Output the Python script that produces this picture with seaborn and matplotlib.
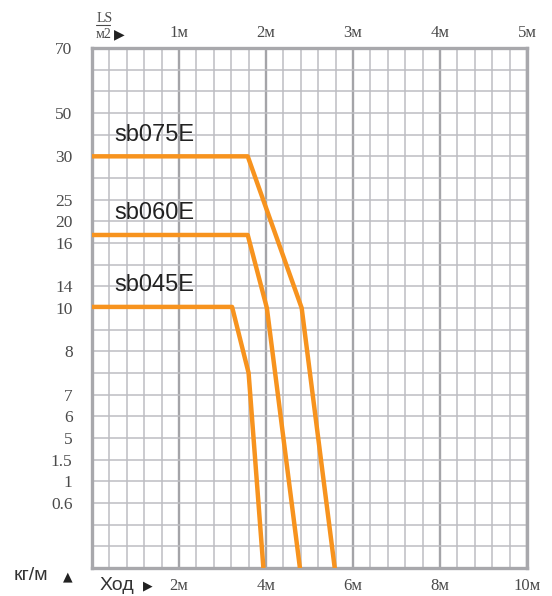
import pandas as pd
import seaborn as sns
import matplotlib.pyplot as plt
from matplotlib.ticker import MultipleLocator

##################################### Data #####################################
# x = LS/2 in metres, y = position on the grid (row counted from the bottom)
sb075E_x = [0, 1.79, 2.41, 2.79]
sb075E_y = [19, 19, 12, 0]
sb060E_x = [0, 1.79, 2.01, 2.39]
sb060E_y = [15.37, 15.37, 12, 0]
sb045E_x = [0, 1.61, 1.80, 1.97]
sb045E_y = [12.05, 12.05, 9, 0]

series_names = ["sb075E", "sb060E", "sb045E"]

# y tick labels (kg/m) and the grid row they sit on
y_tick_rows = [24, 21, 19, 17, 16, 15, 13, 12, 10, 8, 7, 6, 5, 4, 3]
y_tick_labels = ["70", "50", "30", "25", "20", "16", "14", "10", "8", "7", "6", "5", "1.5", "1", "0.6"]

top_ticks = [1, 2, 3, 4, 5]
top_labels = ["1м", "2м", "3м", "4м", "5м"]
bottom_ticks = [2, 4, 6, 8, 10]
bottom_labels = ["2м", "4м", "6м", "8м", "10м"]

##################################### Settings #####################################
orange = "#F7931E"
grid_color = "#bdbdc2"
label_color = "#4a4a4a"
serif = ["Liberation Serif", "DejaVu Serif"]
sans = ["Liberation Sans", "DejaVu Sans"]

sns.set_style("white")
plt.rcParams['font.family'] = sans

df = pd.concat([
    pd.DataFrame({"x": sb075E_x, "y": sb075E_y, "model": "sb075E"}),
    pd.DataFrame({"x": sb060E_x, "y": sb060E_y, "model": "sb060E"}),
    pd.DataFrame({"x": sb045E_x, "y": sb045E_y, "model": "sb045E"}),
])

##################################### Plot #####################################
fig = plt.figure(figsize=(5.52, 5.96), dpi=100)
ax = fig.add_axes([92 / 552, 1 - 568 / 596, 435 / 552, 520 / 596])

sns.lineplot(data=df, x="x", y="y", hue="model", sort=False, estimator=None,
             palette=[orange] * 3, linewidth=3.2, legend=False, ax=ax, zorder=3)

ax.set_xlim(0, 5)
ax.set_ylim(0, 24)

# grid: fine cells, darker line at every metre
ax.xaxis.set_minor_locator(MultipleLocator(0.2))
ax.yaxis.set_minor_locator(MultipleLocator(1))
ax.grid(which="minor", color=grid_color, linewidth=1.1)
ax.grid(which="major", axis="x", color="#a4a4a8", linewidth=1.7)
ax.grid(which="major", axis="y", color=grid_color, linewidth=1.1)

# top axis ticks (LS/2)
ax.set_xticks(top_ticks)
ax.xaxis.tick_top()
ax.set_xticklabels(top_labels, fontsize=12, color=label_color, family=serif)
ax.tick_params(axis="x", which="both", length=0, pad=5)

ax.set_yticks(y_tick_rows)
ax.set_yticklabels(y_tick_labels, fontsize=12.5, color=label_color, family=serif)
ax.tick_params(axis="y", which="both", length=0, pad=14)
ax.set_xlabel("")
ax.set_ylabel("")

# bottom axis (stroke = 2 x LS/2)
sec = ax.secondary_xaxis("bottom", functions=(lambda v: v * 2, lambda v: v / 2))
sec.set_xticks(bottom_ticks)
sec.set_xticklabels(bottom_labels, fontsize=12, color=label_color, family=serif)
sec.tick_params(length=0, pad=7)
sec.spines["bottom"].set_visible(False)

for s in ax.spines.values():
    s.set_color("#a8a8ac")
    s.set_linewidth(2.4)

# model labels above each line
for name, ys in zip(series_names, [sb075E_y, sb060E_y, sb045E_y]):
    ax.text(0.26, ys[0] + 0.5, name, fontsize=17, color="#222222", va="bottom", ha="left")

# header and axis captions
fig.text(97 / 552, 1 - 22 / 596, "LS", fontsize=10, family=serif, color=label_color, ha="left", va="baseline")
fig.add_artist(plt.Line2D([96 / 552, 110 / 552], [1 - 25 / 596, 1 - 25 / 596], color=label_color, linewidth=0.8))
fig.text(96 / 552, 1 - 38 / 596, "м2", fontsize=10, family=serif, color=label_color, ha="left", va="baseline")
fig.text(114 / 552, 1 - 38 / 596, "▶", fontsize=10, family=["DejaVu Sans"], color="#222222", ha="left", va="baseline")

fig.text(14 / 552, 1 - 580 / 596, "кг/м", fontsize=14, color="#333333", ha="left", va="baseline")
fig.text(63 / 552, 1 - 580 / 596, "▲", fontsize=9, family=["DejaVu Sans"], color="#222222", ha="left", va="baseline")
fig.text(100 / 552, 1 - 590 / 596, "Ход", fontsize=14, color="#333333", ha="left", va="baseline")
fig.text(143 / 552, 1 - 589 / 596, "▶", fontsize=9, family=["DejaVu Sans"], color="#222222", ha="left", va="baseline")

plt.savefig("out.png", dpi=100)
